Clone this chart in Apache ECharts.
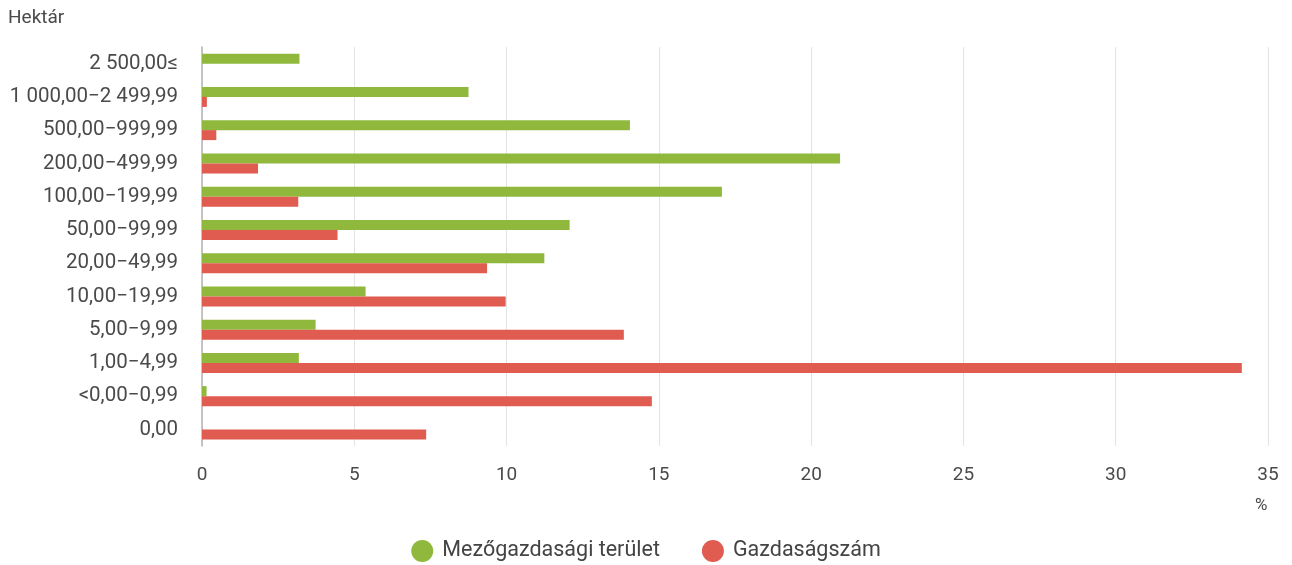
<!DOCTYPE html>
<html>
<head>
<meta charset="utf-8">
<script src="https://cdn.jsdelivr.net/npm/echarts@6/dist/echarts.min.js"></script>
<style>
  html, body { margin: 0; padding: 0; background: #fff; }
  #chart { width: 1292px; height: 565px; }
</style>
</head>
<body>
<div id="chart"></div>
<script>
// kategóriák felülről lefelé
const categories = ['2 500,00≤', '1 000,00−2 499,99', '500,00−999,99', '200,00−499,99', '100,00−199,99',
  '50,00−99,99', '20,00−49,99', '10,00−19,99', '5,00−9,99', '1,00−4,99', '<0,00−0,99', '0,00'];
const teruletValues = [3.2, 8.75, 14.05, 20.95, 17.07, 12.07, 11.24, 5.37, 3.73, 3.18, 0.15, 0];
const gazdasagValues = [0, 0.16, 0.47, 1.84, 3.16, 4.45, 9.36, 9.97, 13.85, 34.14, 14.77, 7.36];
const seriesNames = ['Mezőgazdasági terület', 'Gazdaságszám'];
const xTicks = { min: 0, max: 35, interval: 5 };

const chart = echarts.init(document.getElementById('chart'));
const textColor = '#4a4a4a';
const font = 'Roboto, "Noto Sans", sans-serif';

chart.setOption({
  animation: false,
  textStyle: { fontFamily: font },
  grid: { left: 202, right: 24, top: 47, bottom: 119 },
  legend: {
    top: 535,
    left: 'center',
    icon: 'circle',
    itemWidth: 22,
    itemHeight: 22,
    itemGap: 42,
    textStyle: { color: '#444', fontSize: 21.5, fontFamily: font, padding: [0, 0, 0, 4] }
  },
  graphic: [
    { type: 'text', left: 8, top: 9, style: { text: 'Hektár', fill: textColor, fontSize: 19, fontFamily: font } },
    { type: 'text', left: 1255, top: 497, style: { text: '%', fill: textColor, fontSize: 17, fontFamily: font } }
  ],
  xAxis: {
    type: 'value',
    min: xTicks.min,
    max: xTicks.max,
    interval: xTicks.interval,
    axisLine: { show: false },
    axisTick: { show: false },
    axisLabel: { color: textColor, fontSize: 19, margin: 20 },
    splitLine: { lineStyle: { color: '#e3e3e3', width: 1 } }
  },
  yAxis: {
    type: 'category',
    inverse: true,
    data: categories,
    axisLine: { lineStyle: { color: '#b5b5b5', width: 1.5 } },
    axisTick: { length: 10, lineStyle: { color: '#b5b5b5', width: 1.5 } },
    axisLabel: { color: textColor, fontSize: 20.5, margin: 24, padding: [4, 0, 0, 0] }
  },
  series: [
    {
      name: seriesNames[0],
      type: 'bar',
      data: teruletValues,
      barWidth: 10,
      barGap: '0%',
      itemStyle: { color: '#8fb83c' }
    },
    {
      name: seriesNames[1],
      type: 'bar',
      data: gazdasagValues,
      barWidth: 10,
      barGap: '0%',
      itemStyle: { color: '#e05b50' }
    }
  ]
});
</script>
</body>
</html>
